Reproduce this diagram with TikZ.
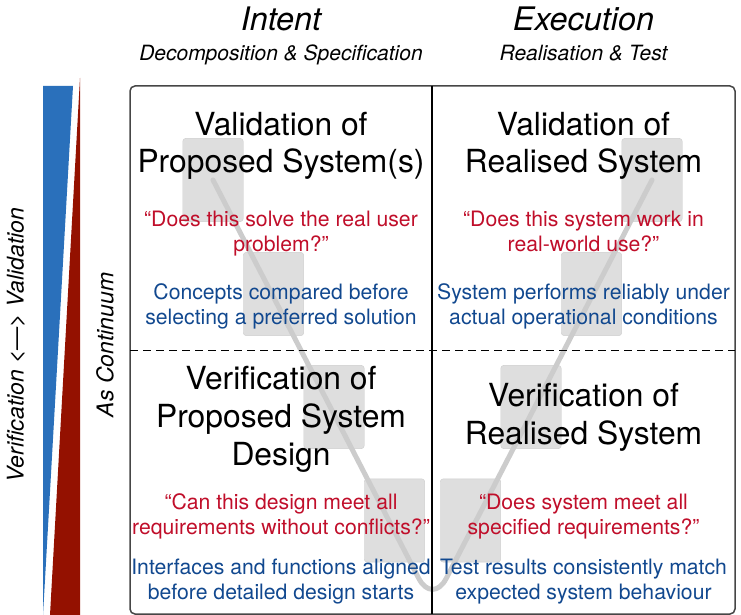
\documentclass[tikz,border=0pt]{standalone}
\usepackage{fontspec}
\setmainfont{TeX Gyre Heros}
\definecolor{bar_blue}{RGB}{42,112,187}
\definecolor{bar_red}{RGB}{148,17,0}
\definecolor{text_red}{RGB}{192,14,42}
\definecolor{text_blue}{RGB}{17,72,143}
\definecolor{box_gray}{RGB}{222,222,222}
\definecolor{edge_gray}{RGB}{205,205,205}
\definecolor{line_gray}{RGB}{204,204,204}
\definecolor{frame_gray}{RGB}{70,70,70}

\begin{document}
\begin{tikzpicture}[x=1pt,y=-1pt,line join=round]
    \tikzstyle{stage}=[draw=edge_gray, fill=box_gray, rounded corners=3pt, minimum width=60.5pt, minimum height=83.3pt, inner sep=0pt]
    \tikzstyle{title}=[align=center, anchor=base, font=\fontsize{31.8}{37.7}\selectfont]
    \tikzstyle{ask}=[align=center, anchor=base, text=text_red, font=\fontsize{21.2}{25}\selectfont]
    \tikzstyle{note}=[align=center, anchor=base, text=text_blue, font=\fontsize{21.2}{25}\selectfont]
    \tikzstyle{head}=[anchor=base, font=\fontsize{32.4}{38}\selectfont\itshape]
    \tikzstyle{sub}=[anchor=base, font=\fontsize{21}{25}\selectfont\itshape]
    \tikzstyle{side}=[rotate=90, inner sep=0pt, font=\fontsize{23}{28}\selectfont\itshape]

    \useasboundingbox (0,0) rectangle (741,615);

    % bars on the left
    \fill[bar_blue] (43,86) -- (73,86) -- (43,615) -- cycle;
    \fill[bar_red]  (80,78) -- (80,615) -- (50,615) -- cycle;

    % steps of the V
    \node[stage] (g1) at (213,180)   {};
    \node[stage] (g2) at (273.5,294) {};
    \node[stage] (g3) at (334,407)   {};
    \node[stage] (g4) at (394.5,520.5) {};
    \node[stage] (g5) at (470.5,520.5) {};
    \node[stage] (g6) at (531,407)   {};
    \node[stage] (g7) at (591.5,294) {};
    \node[stage] (g8) at (652,180)   {};
    \coordinate (vbot) at (432.5,605);
    \draw[line_gray, line width=5pt, line cap=round, rounded corners=30pt] (g1.center) -- (vbot) -- (g8.center);

    % frame
    \draw[frame_gray, line width=1.5pt, rounded corners=5pt] (130,86) rectangle (735,614);
    \draw[black, line width=1.2pt] (432,86) -- (432,614);
    \draw[black, line width=1pt, dash pattern=on 8pt off 5pt] (130,350) -- (735,350);

    % headings
    \node[head] (intent)    at (281,31)   {Intent};
    \node[sub]  (intentsub) at (281,61)   {Decomposition \& Specification};
    \node[head] (exec)      at (583.5,31) {Execution};
    \node[sub]  (execsub)   at (583.5,61) {Realisation \& Test};

    \node[side] (vv)   at (16,345)  {Verification <—> Validation};
    \node[side] (cont) at (105,345) {As Continuum};

    % quadrants (base = last line)
    \node[title] (tl)  at (281,172.7) {Validation of\\Proposed System(s)};
    \node[ask]   (tlq) at (281,251.7) {“Does this solve the real user\\problem?”};
    \node[note]  (tln) at (281,324)   {Concepts compared before\\selecting a preferred solution};

    \node[title] (tr)  at (583.5,172.7) {Validation of\\Realised System};
    \node[ask]   (trq) at (583.5,251.7) {“Does this system work in\\real-world use?”};
    \node[note]  (trn) at (583.5,324)   {System performs reliably under\\actual operational conditions};

    \node[title] (bl)  at (281,465)     {Verification of\\Proposed System\\Design};
    \node[ask]   (blq) at (281,534.3)   {“Can this design meet all\\requirements without conflicts?”};
    \node[note]  (bln) at (281,599.3)   {Interfaces and functions aligned\\before detailed design starts};

    \node[title] (br)  at (583.5,444)   {Verification of\\Realised System};
    \node[ask]   (brq) at (583.5,534.3) {“Does system meet all\\specified requirements?”};
    \node[note]  (brn) at (583.5,599.3) {Test results consistently match\\expected system behaviour};
\end{tikzpicture}
\end{document}
